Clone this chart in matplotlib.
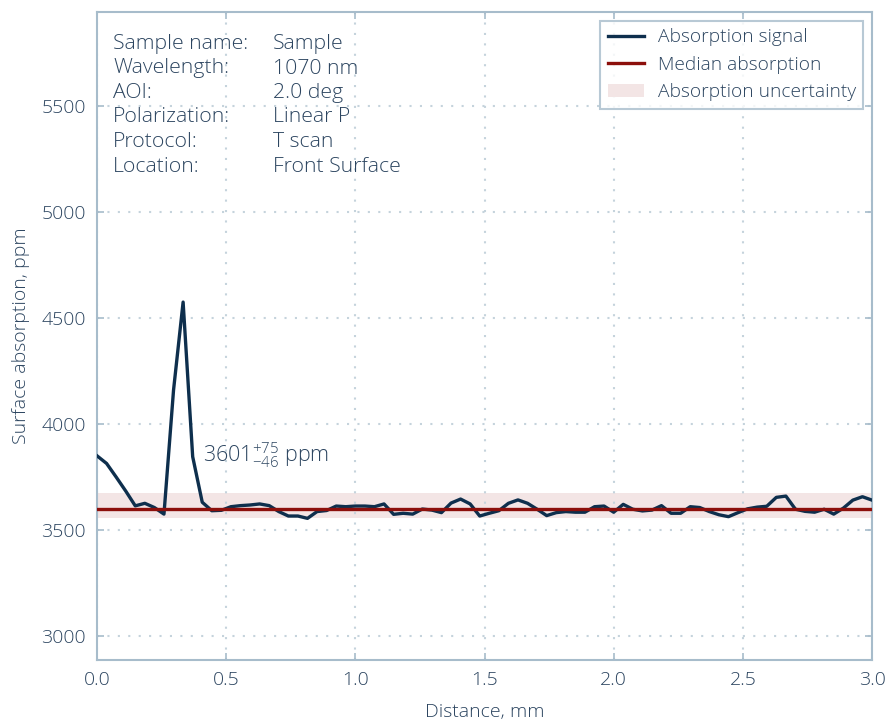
import matplotlib
matplotlib.use("Agg")
import matplotlib.pyplot as plt
from matplotlib.patches import Patch
from matplotlib.lines import Line2D
import numpy as np

# data
n_points = 82
distance = np.linspace(0, 3.0, n_points)
absorption = [3850, 3814, 3750, 3684, 3614, 3626, 3606, 3575, 4160, 4575,
              3846, 3631, 3591, 3593, 3610, 3615, 3618, 3623, 3615, 3587,
              3566, 3566, 3555, 3587, 3592, 3613, 3610, 3613, 3613, 3610,
              3623, 3574, 3579, 3575, 3599, 3594, 3582, 3627, 3646, 3623,
              3566, 3579, 3591, 3626, 3642, 3626, 3598, 3568, 3582, 3587,
              3584, 3584, 3610, 3613, 3584, 3621, 3598, 3590, 3594, 3615,
              3579, 3579, 3610, 3606, 3587, 3572, 3563, 3582, 3600, 3608,
              3612, 3654, 3660, 3598, 3588, 3584, 3598, 3575, 3603, 3641,
              3657, 3641]
median_abs = 3601
err_plus = 75
err_minus = 46

info_keys = ["Sample name:", "Wavelength:", "AOI:", "Polarization:", "Protocol:", "Location:"]
info_vals = ["Sample", "1070 nm", "2.0 deg", "Linear P", "T scan", "Front Surface"]

xticks = [0.0, 0.5, 1.0, 1.5, 2.0, 2.5, 3.0]
yticks = [3000, 3500, 4000, 4500, 5000, 5500]

text_col = "#2c4560"
spine_col = "#a7bccb"
grid_col = "#c5d3dc"
signal_col = "#0e2f4d"
median_col = "#8c0f0b"
band_col = "#f3e5e5"

plt.rcParams['font.family'] = ['Open Sans', 'DejaVu Sans']
plt.rcParams['font.weight'] = 'light'
plt.rcParams['mathtext.fontset'] = 'custom'
plt.rcParams['mathtext.rm'] = 'Open Sans:light'
plt.rcParams['mathtext.it'] = 'Open Sans:light'

fig = plt.figure(figsize=(8.9, 7.24), dpi=100)
ax = fig.add_axes([97/890, 64/724, 775/890, 648/724])

ax.axhspan(median_abs - err_minus, median_abs + err_plus, color=band_col, lw=0, zorder=1)
ax.plot(distance, absorption, color=signal_col, lw=2.4, zorder=3)
ax.axhline(median_abs, color=median_col, lw=2.4, zorder=4)

ax.set_xlim(0, 3.0)
ax.set_ylim(2887, 5943)
ax.set_xticks(xticks)
ax.set_xticklabels([f"{t:.1f}" for t in xticks])
ax.set_yticks(yticks)
ax.grid(True, color=grid_col, ls=(0, (1, 4)), lw=1.5, zorder=0)
ax.tick_params(direction='in', length=5, width=1.2, color=spine_col, labelcolor=text_col,
               labelsize=14, top=True, right=True, pad=8)
for lbl in ax.get_xticklabels() + ax.get_yticklabels():
    lbl.set_fontweight('light')
for s in ax.spines.values():
    s.set_color(spine_col)
    s.set_linewidth(1.5)

ax.set_xlabel("Distance, mm", color=text_col, fontsize=14, labelpad=10, fontweight='light')
ax.set_ylabel("Surface absorption, ppm", color=text_col, fontsize=14, labelpad=8, fontweight='light')

# info block
for i, (k, v) in enumerate(zip(info_keys, info_vals)):
    y = 44 + i * 24.5
    fig.text(113/890, 1 - y/724, k, color=text_col, fontsize=15.3, va='center')
    fig.text(273/890, 1 - y/724, v, color=text_col, fontsize=15.3, va='center')

ax.text(0.41, 3852, rf"${median_abs}^{{+{err_plus}}}_{{-{err_minus}}}$ ppm",
        color=text_col, fontsize=15.5, va='center')

handles = [Line2D([0], [0], color=signal_col, lw=2.4),
           Line2D([0], [0], color=median_col, lw=2.4),
           Patch(facecolor=band_col, edgecolor='none')]
leg = ax.legend(handles, ["Absorption signal", "Median absorption", "Absorption uncertainty"],
                loc='upper right', fontsize=13.8, frameon=True, fancybox=False,
                borderaxespad=0.45, borderpad=0.4, handlelength=1.9, handletextpad=0.7,
                labelspacing=0.5)
leg.get_frame().set_edgecolor(spine_col)
leg.get_frame().set_linewidth(1.5)
for t in leg.get_texts():
    t.set_color(text_col)

fig.savefig("out.png", dpi=100)
